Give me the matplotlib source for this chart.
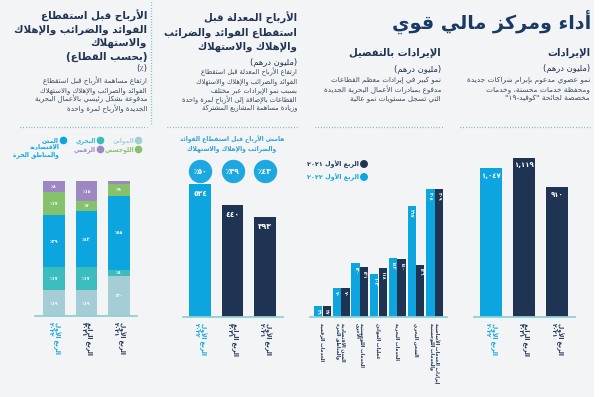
import re
import matplotlib
matplotlib.use('Agg')
import matplotlib.pyplot as plt
from matplotlib.patches import Rectangle

plt.rcParams['font.family'] = ['DejaVu Sans']

# ---- data -------------------------------------------------------------
periods = ['الربع الأول ٢٠٢١', 'الربع الرابع ٢٠٢١', 'الربع الأول ٢٠٢٢']
revenue = [910, 1119, 1047]
ebitda = [393, 440, 524]
ebitda_margin = [43, 39, 50]

# revenue breakdown, listed right to left as in the chart
segments = ['إيرادات الخدمات الأساسية\nوالخدمات اللوجستية', 'الشحن البحري',
            'الخدمات البحرية', 'عمليات الموانئ', 'الخدمات اللوجستية\nالأخرى',
            'المدن الاقتصادية\nوالمناطق الحرة', 'الخدمات الرقمية']
seg_q1_2021 = [309, 126, 140, 118, 121, 70, 27]
seg_q1_2022 = [308, 267, 142, 103, 130, 70, 26]

# ebitda share by sector (%), bottom to top
sectors = ['الموانئ', 'البحري', 'المدن\nالاقتصادية\nوالمناطق الحرة', 'اللوجستي', 'الرقمي']
share_q1_2021 = [30, 4, 55, 9, 2]
share_q4_2021 = [19, 17, 42, 7, 15]
share_q1_2022 = [19, 17, 39, 17, 8]

NAVY = '#1f3352'
LIGHT = '#0ca5e0'
TEXT = '#3b4a5e'
TEAL_LINE = '#8fd1d3'
DOTS = '#4aa8b8'
sector_colors = ['#a5cdd6', '#3bbcbd', '#0ca5e0', '#86c26b', '#9d88c2']

# ---- minimal arabic shaping (presentation forms + rtl order) -----------
AR_LETTERS = 'ءآأؤإئابةتثجحخدذرزسشصضطظعغفقكلمنهوىي'
AR_NFORMS = [1, 2, 2, 2, 2, 4, 2, 4, 2, 4, 4, 4, 4, 4, 2, 2, 2, 2, 4, 4,
             4, 4, 4, 4, 4, 4, 4, 4, 4, 4, 4, 4, 4, 2, 2, 4]
FORMS = {}
code = 0xFE80
for ch, n in zip(AR_LETTERS, AR_NFORMS):
    FORMS[ch] = [code + i for i in range(n)]
    code += n
LAMALEF = {'آ': 0xFEF5, 'أ': 0xFEF7, 'إ': 0xFEF9, 'ا': 0xFEFB}


def joins_next(c):
    return c in FORMS and len(FORMS[c]) == 4


def joins_prev(c):
    return c in FORMS and len(FORMS[c]) >= 2


def shape(s):
    res = []
    i = 0
    while i < len(s):
        c = s[i]
        if c not in FORMS:
            res.append(c)
            i += 1
            continue
        prev = s[i - 1] if i > 0 else ''
        lp = joins_next(prev) and joins_prev(c)
        if c == 'ل' and i + 1 < len(s) and s[i + 1] in LAMALEF:
            res.append(chr(LAMALEF[s[i + 1]] + (1 if lp else 0)))
            i += 2
            continue
        nxt = s[i + 1] if i + 1 < len(s) else ''
        ln = joins_next(c) and joins_prev(nxt)
        k = 3 if (lp and ln) else 1 if lp else 2 if ln else 0
        res.append(chr(FORMS[c][k]))
        i += 1
    return ''.join(res)


def ar(s):
    out = []
    for line in s.split('\n'):
        t = shape(line)[::-1]
        t = re.sub(r'[0-9٠-٩][0-9٠-٩,]*', lambda m: m.group(0)[::-1], t)
        out.append(t.translate(str.maketrans('()', ')(')))
    return '\n'.join(out)


def ind(n):
    return f'{n:,}'.translate(str.maketrans('0123456789', '٠١٢٣٤٥٦٧٨٩'))


# ---- figure -------------------------------------------------------------
W, H = 600, 397
fig = plt.figure(figsize=(W / 100, H / 100), dpi=100)
bg = fig.add_axes([0, 0, 1, 1])
bg.set_xlim(0, W)
bg.set_ylim(H, 0)
bg.axis('off')
bg.add_patch(Rectangle((0, 0), 593, H, color='#f3f4f6', zorder=0))


def box(x0, y0, x1, y1, c0, step):
    ax = fig.add_axes([x0 / W, 1 - y1 / H, (x1 - x0) / W, (y1 - y0) / H])
    ax.set_xlim((x0 - c0) / step, (x1 - c0) / step)
    ax.axis('off')
    return ax


def rtl_block(x, y, lines, dy, **kw):
    for k, line in enumerate(lines):
        bg.text(x, y + k * dy, ar(line), ha='right', va='center', **kw)


def dotted(x0, x1, y0, y1):
    bg.plot([x0, x1], [y0, y1], color=DOTS, lw=0.9, ls=(0, (0.6, 1.6)))


def baseline(ax):
    ax.axhline(0, color=TEAL_LINE, lw=1.3, clip_on=False)


def period_labels(ax, pos):
    for p, lab in zip(pos, periods):
        col = LIGHT if lab.endswith('٢٠٢٢') else NAVY
        ax.annotate(ar(lab.rsplit(' ', 1)[0] + '\n' + lab.rsplit(' ', 1)[1]),
                    xy=(p, 0), xytext=(0, -4.5), textcoords='offset points',
                    rotation=-90, ha='center', va='top', multialignment='left',
                    fontsize=4.3, color=col, fontweight='bold', linespacing=1.0,
                    annotation_clip=False)


HEAD = 7.2

# title
bg.text(591, 22, ar('أداء ومركز مالي قوي'), ha='right', va='center',
        fontsize=13.8, fontweight='bold', color='#1a3a63')

# ---- panel 1 : revenue
rtl_block(590, 53, ['الإيرادات'], 0, fontsize=HEAD, fontweight='bold', color=NAVY)
rtl_block(590, 68, ['(مليون درهم)'], 0, fontsize=6, color=NAVY)
rtl_block(590, 80, ['نمو عضوي مدعوم بإبرام شراكات جديدة',
                    'ومحفظة خدمات محسنة، وخدمات',
                    'مخصصة لجائحة "كوفيد-١٩"'], 9.2, fontsize=5.3, color=TEXT)
dotted(460, 590, 127, 127)

ax1 = box(474, 140, 575, 317, 491, 33)
ax1.set_ylim(0, 177 / 0.1425)
pos1 = [len(revenue) - 1 - i for i in range(len(revenue))]
ax1.bar(pos1, revenue, width=0.64, color=[NAVY, NAVY, LIGHT])
for p, v in zip(pos1, revenue):
    ax1.annotate(ind(v), xy=(p, v), xytext=(0, -3.5), textcoords='offset points',
                 ha='center', va='top', fontsize=5, color='white', fontweight='bold')
baseline(ax1)
period_labels(ax1, pos1)

# ---- panel 2 : revenue breakdown
rtl_block(441, 53, ['الإيرادات بالتفصيل'], 0, fontsize=HEAD, fontweight='bold', color=NAVY)
rtl_block(441, 69, ['(مليون درهم)'], 0, fontsize=6, color=NAVY)
rtl_block(441, 80, ['نمو كبير في إيرادات معظم القطاعات',
                    'مدفوع بمبادرات الأعمال البحرية الجديدة',
                    'التي تسجل مستويات نمو عالية'], 9.5, fontsize=5.1, color=TEXT)
dotted(315, 443, 127, 127)

bg.scatter([364, 364], [164, 177], s=22, color=[NAVY, LIGHT], zorder=3)
rtl_block(359, 164, ['الربع الأول ٢٠٢١'], 0, fontsize=4.6, fontweight='bold', color=NAVY)
rtl_block(359, 177, ['الربع الأول ٢٠٢٢'], 0, fontsize=4.6, fontweight='bold', color=LIGHT)

ax2 = box(310, 180, 447, 317, 322.5, 18.7)
ax2.set_ylim(0, 137 / 0.415)
pos2 = [len(segments) - 1 - i for i in range(len(segments))]
for off, vals, col in [(-0.23, seg_q1_2022, LIGHT), (0.23, seg_q1_2021, NAVY)]:
    xs = [p + off for p in pos2]
    ax2.bar(xs, vals, width=0.44, color=col)
    for x, v in zip(xs, vals):
        ax2.annotate(ind(v), xy=(x, v), xytext=(0, -2), textcoords='offset points',
                     rotation=-90, ha='center', va='top', fontsize=3.3,
                     color='white', fontweight='bold')
baseline(ax2)
for p, lab in zip(pos2, segments):
    ax2.annotate(ar(lab), xy=(p, 0), xytext=(0, -4.5), textcoords='offset points',
                 rotation=-90, ha='center', va='top', multialignment='left',
                 fontsize=3.4, color=NAVY, fontweight='bold', linespacing=1.0,
                 annotation_clip=False)

# ---- panel 3 : adjusted ebitda
rtl_block(297, 18, ['الأرباح المعدلة قبل', 'استقطاع الفوائد والضرائب',
                    'والإهلاك والاستهلاك'], 14.5, fontsize=HEAD, fontweight='bold', color=NAVY)
rtl_block(297, 62, ['(مليون درهم)'], 0, fontsize=6, color=NAVY)
rtl_block(297, 72, ['ارتفاع الأرباح المعدلة قبل استقطاع',
                    'الفوائد والضرائب والإهلاك والاستهلاك',
                    'بسبب نمو الإيرادات عبر مختلف',
                    'القطاعات بالإضافة إلى الأرباح لمرة واحدة',
                    'وزيادة مساهمة المشاريع المشتركة'], 9.1, fontsize=4.8, color=TEXT)
dotted(167, 297, 127, 127)
dotted(151, 151, 2, 125)

for k, line in enumerate(['هامش الأرباح قبل استقطاع الفوائد', 'والضرائب والإهلاك والاستهلاك']):
    bg.text(232, 139 + k * 9.5, ar(line), ha='center', va='center', fontsize=4.3,
            color='#2e9fd3', fontweight='bold')

ax3 = box(183, 140, 283, 317, 200, 32.5)
ax3.set_ylim(0, 177 / 0.254)
pos3 = [len(ebitda) - 1 - i for i in range(len(ebitda))]
ax3.bar(pos3, ebitda, width=0.66, color=[NAVY, NAVY, LIGHT])
for p, v in zip(pos3, ebitda):
    ax3.annotate(ind(v), xy=(p, v), xytext=(0, -3.5), textcoords='offset points',
                 ha='center', va='top', fontsize=5.5, color='white', fontweight='bold')
cy = (317 - 171) / 177
ax3.scatter(pos3, [cy] * 3, s=250, color='#1ea8e2', transform=ax3.get_xaxis_transform(),
            clip_on=False, zorder=3)
for p, m in zip(pos3, ebitda_margin):
    ax3.text(p, cy, '٪' + ind(m), transform=ax3.get_xaxis_transform(), ha='center',
             va='center', fontsize=5.5, color='white', fontweight='bold', zorder=4)
baseline(ax3)
period_labels(ax3, pos3)

# ---- panel 4 : ebitda by sector
rtl_block(147, 16, ['الأرباح قبل استقطاع', 'الفوائد والضرائب والإهلاك',
                    'والاستهلاك', '(بحسب القطاع)'], 13.6, fontsize=HEAD + 0.3,
          fontweight='bold', color=NAVY)
rtl_block(147, 69, ['(٪)'], 0, fontsize=6, color=NAVY)
rtl_block(147, 81, ['ارتفاع مساهمة الأرباح قبل استقطاع',
                    'الفوائد والضرائب والإهلاك والاستهلاك',
                    'مدفوعة بشكل رئيسي بالأعمال البحرية',
                    'الجديدة والأرباح لمرة واحدة'], 9.1, fontsize=5, color=TEXT)
dotted(20, 147, 127, 127)

leg_xy = [(138, 140), (100, 140), (63, 140), (138, 149), (100, 149)]
for (lx, ly), name, col in zip(leg_xy, sectors, sector_colors):
    bg.scatter([lx], [ly], s=20, color=col, zorder=3)
    bg.text(lx - 4, ly - 3, ar(name), ha='right', va='top', multialignment='right',
            fontsize=4.3, color=col, fontweight='bold', linespacing=1.25)

ax4 = box(35, 181, 137, 316, 54, 32.5)
ax4.set_ylim(0, 100)
shares = [share_q1_2021, share_q4_2021, share_q1_2022]
pos4 = [len(shares) - 1 - i for i in range(len(shares))]
for p, sh in zip(pos4, shares):
    bottom = 0
    for v, col in zip(sh, sector_colors):
        ax4.bar(p, v, bottom=bottom, width=0.66, color=col)
        if v >= 4:
            ax4.text(p, bottom + v / 2, '٪' + ind(v), ha='center', va='center',
                     fontsize=3.3, color='white', fontweight='bold')
        bottom += v
baseline(ax4)
period_labels(ax4, pos4)

fig.savefig('out.png', dpi=100)
